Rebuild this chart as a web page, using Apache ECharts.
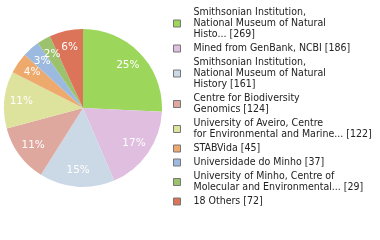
<!DOCTYPE html>
<html><head><meta charset="utf-8">
<script src="https://cdn.jsdelivr.net/npm/echarts@6/dist/echarts.min.js"></script>
<style>html,body{margin:0;padding:0;background:#fff}#c{width:380px;height:240px}</style>
</head><body><div id="c"></div>
<script>
var categories = [
  "Smithsonian Institution,\nNational Museum of Natural\nHisto...",
  "Mined from GenBank, NCBI",
  "Smithsonian Institution,\nNational Museum of Natural\nHistory",
  "Centre for Biodiversity\nGenomics",
  "University of Aveiro, Centre\nfor Environmental and Marine...",
  "STABVida",
  "Universidade do Minho",
  "University of Minho, Centre of\nMolecular and Environmental...",
  "18 Others"
];
var values = [269, 186, 161, 124, 122, 45, 37, 29, 72];
var colors = ["#9cd75b", "#dfbedf", "#cbd8e5", "#dfa89e", "#dde29d", "#eeaa6d", "#9cbadf", "#9dc26e", "#dc7459"];

var total = values.reduce(function (a, b) { return a + b; }, 0);
var data = categories.map(function (n, i) { return { name: n, value: values[i] }; });

var chart = echarts.init(document.getElementById('c'), null, { renderer: 'canvas' });
chart.setOption({
  animation: false,
  color: colors,
  legend: {
    orient: 'vertical',
    left: 173,
    top: 7,
    padding: 0,
    itemWidth: 7,
    itemHeight: 7,
    itemGap: 3,
    icon: 'rect',
    itemStyle: { borderColor: '#777', borderWidth: 1 },
    data: categories,
    formatter: function (name) {
      var i = categories.indexOf(name);
      return name + ' [' + values[i] + ']';
    },
    textStyle: { fontFamily: '"DejaVu Sans Condensed", "DejaVu Sans"', fontSize: 10.5, lineHeight: 11, color: '#222', padding: [0, 0, 0, 8] }
  },
  series: [
    {
      type: 'pie',
      center: [83, 108],
      radius: [0, 79],
      startAngle: 90,
      clockwise: true,
      silent: true,
      data: data,
      label: { show: false },
      labelLine: { show: false },
      itemStyle: { borderWidth: 0 }
    },
    {
      type: 'pie',
      center: [83, 108],
      radius: [39, 79],
      startAngle: 90,
      clockwise: true,
      silent: true,
      avoidLabelOverlap: false,
      labelLayout: { hideOverlap: false },
      data: data,
      itemStyle: { color: 'rgba(0,0,0,0)', borderWidth: 0 },
      labelLine: { show: false },
      label: {
        show: true,
        position: 'inside',
        color: '#fff',
        fontFamily: 'DejaVu Sans',
        fontSize: 10.5,
        formatter: function (p) { return Math.floor(p.value / total * 100) + '%'; }
      }
    }
  ]
});
</script>
</body></html>
